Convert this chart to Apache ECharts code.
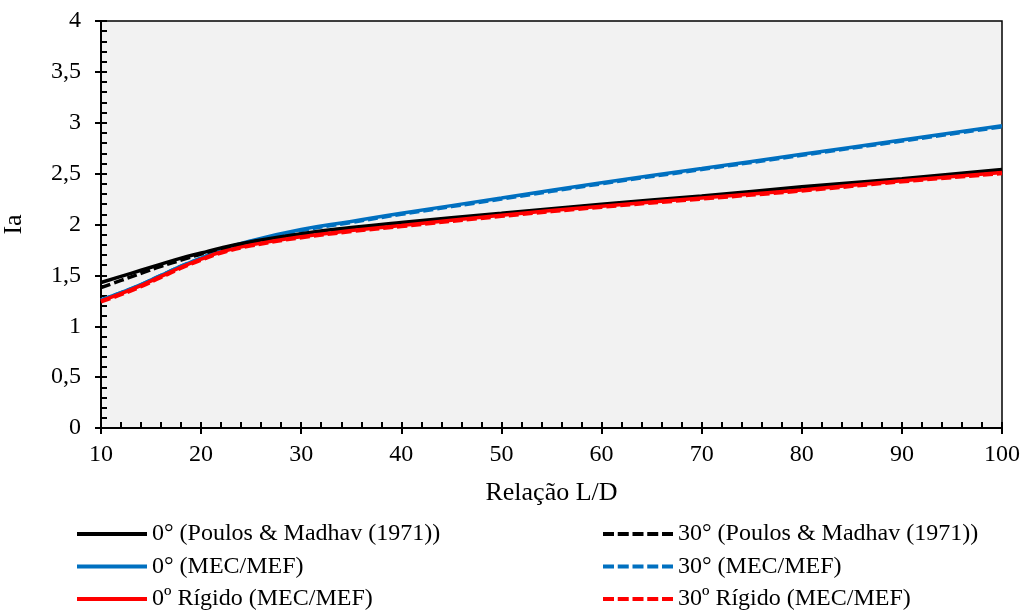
<!DOCTYPE html>
<html><head><meta charset="utf-8">
<script src="https://cdn.jsdelivr.net/npm/echarts@6/dist/echarts.min.js"></script>
<style>html,body{margin:0;padding:0;background:#fff}#c{width:1022px;height:610px}</style>
</head><body><div id="c"></div>
<script>
const ld = [10,12,14,16,18,20,22,25,30,35,40,50,60,70,80,90,100];
const poulos0  = [1.43,1.49,1.55,1.61,1.67,1.72,1.77,1.83,1.91,1.97,2.02,2.11,2.20,2.28,2.37,2.45,2.54];
const poulos30 = [1.38,1.45,1.52,1.59,1.65,1.71,1.76,1.82,1.90,1.96,2.01,2.10,2.19,2.27,2.36,2.44,2.53];
const mec0     = [1.26,1.33,1.41,1.50,1.59,1.67,1.75,1.84,1.95,2.03,2.11,2.26,2.41,2.55,2.69,2.83,2.97];
const mec30    = [1.26,1.33,1.41,1.50,1.59,1.67,1.74,1.83,1.94,2.02,2.10,2.25,2.40,2.54,2.68,2.82,2.96];
const rig0     = [1.25,1.32,1.40,1.49,1.58,1.66,1.73,1.80,1.88,1.94,1.99,2.09,2.18,2.26,2.34,2.43,2.51];
const rig30    = [1.24,1.31,1.39,1.48,1.57,1.65,1.72,1.79,1.87,1.93,1.98,2.08,2.17,2.25,2.33,2.42,2.50];
const names = ['0° (Poulos & Madhav (1971))','30° (Poulos & Madhav (1971))','0° (MEC/MEF)','30° (MEC/MEF)','0º Rígido (MEC/MEF)','30º Rígido (MEC/MEF)'];
const colors = ['#000000','#000000','#0070C0','#0070C0','#FF0000','#FF0000'];
const styles = ['solid','dashed','solid','dashed','solid','dashed'];
const values = [poulos0,poulos30,mec0,mec30,rig0,rig30];
const zOrder = [3,4,1,2,5,6];

const font = 'Liberation Serif';
const solidIcon = 'path://M0,0h70v4h-70z';
const dashIcon = 'path://M0,0h11v4h-11z M14.75,0h11v4h-11z M29.5,0h11v4h-11z M44.25,0h11v4h-11z M59,0h11v4h-11z';
const chart = echarts.init(document.getElementById('c'));
const axisCommonX = {type:'value',min:10,max:100,interval:10,position:'bottom'};
const axisCommonY = {type:'value',min:0,max:4,interval:0.5,position:'left'};
const legendCommon = {orient:'vertical',top:517,height:95,itemWidth:70,itemHeight:4,itemGap:8.5,
  textStyle:{fontFamily:font,fontSize:24,color:'#000'}};
chart.setOption({
  animation:false,
  grid:{left:101,right:20,top:21,bottom:182,show:true,backgroundColor:'#F2F2F2',borderColor:'#000',borderWidth:1.5,
    containLabel:false,outerBoundsMode:'none'},
  xAxis:[
    Object.assign({},axisCommonX,{
      name:'Relação L/D',nameLocation:'middle',nameGap:52,
      nameTextStyle:{fontFamily:font,fontSize:26,color:'#000'},
      axisLine:{lineStyle:{color:'#000',width:2}},
      axisTick:{show:true,inside:false,length:6,lineStyle:{color:'#000',width:2}},
      axisLabel:{fontFamily:font,fontSize:24,color:'#000',margin:15},
      splitLine:{show:false}
    }),
    Object.assign({},axisCommonX,{
      axisLine:{show:false},
      axisTick:{show:true,inside:true,length:6,lineStyle:{color:'#000',width:2}},
      minorTick:{show:true,splitNumber:5,length:6,lineStyle:{color:'#000',width:2}},
      axisLabel:{show:false},splitLine:{show:false}
    })
  ],
  yAxis:[
    Object.assign({},axisCommonY,{
      name:'Ia',nameLocation:'middle',nameGap:74,nameRotate:90,
      nameTextStyle:{fontFamily:font,fontSize:26,color:'#000'},
      axisLine:{lineStyle:{color:'#000',width:2}},
      axisTick:{show:true,inside:false,length:6,lineStyle:{color:'#000',width:2}},
      axisLabel:{fontFamily:font,fontSize:24,color:'#000',margin:20,
        formatter:v=>String(v).replace('.',',')},
      splitLine:{show:false}
    }),
    Object.assign({},axisCommonY,{
      axisLine:{show:false},
      axisTick:{show:true,inside:true,length:6,lineStyle:{color:'#000',width:2}},
      minorTick:{show:true,splitNumber:5,length:6,lineStyle:{color:'#000',width:2}},
      axisLabel:{show:false},splitLine:{show:false}
    })
  ],
  legend:[
    Object.assign({},legendCommon,{left:72,
      data:[{name:names[0],icon:solidIcon},{name:names[2],icon:solidIcon},{name:names[4],icon:solidIcon}]}),
    Object.assign({},legendCommon,{left:598,
      data:[{name:names[1],icon:dashIcon},{name:names[3],icon:dashIcon},{name:names[5],icon:dashIcon}]})
  ],
  series:names.map((n,i)=>({
    name:n,type:'line',smooth:true,symbol:'none',xAxisIndex:0,yAxisIndex:0,
    data:ld.map((x,j)=>[x,values[i][j]]),
    lineStyle:{color:colors[i],width:3.5,type:styles[i]==='dashed'?[10,4]:'solid'},
    itemStyle:{color:colors[i]},
    z: zOrder[i]
  }))
});
</script></body></html>
